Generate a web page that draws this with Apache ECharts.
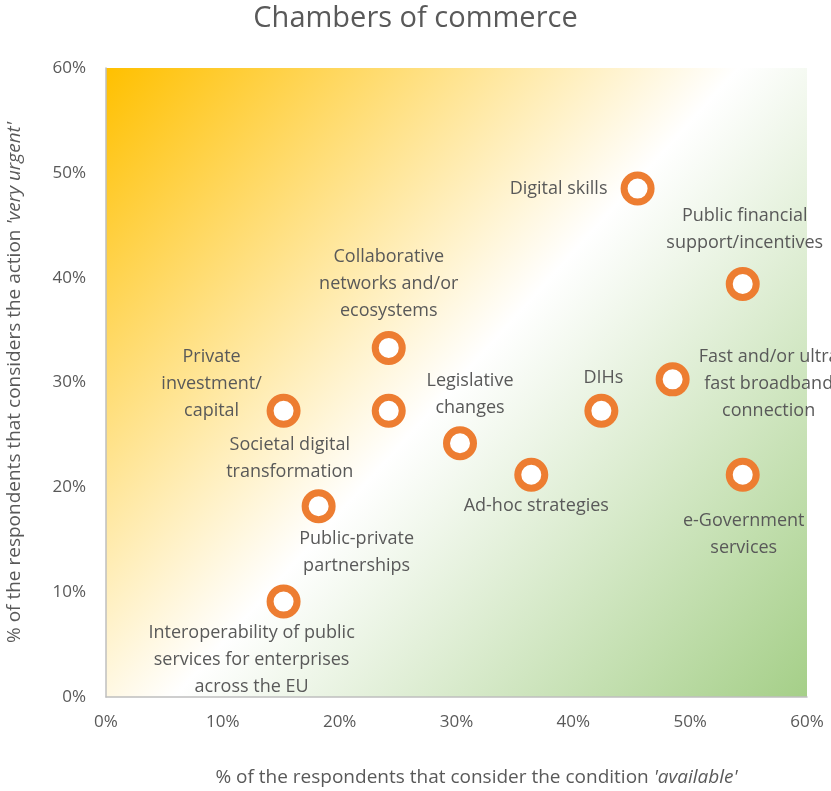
<!DOCTYPE html>
<html>
<head>
<meta charset="utf-8">
<title>Chambers of commerce</title>
<script src="https://cdn.jsdelivr.net/npm/echarts@6/dist/echarts.min.js"></script>
<style>
  html, body { margin: 0; padding: 0; background: #fff; }
  #chart { width: 831px; height: 791px; }
</style>
</head>
<body>
<div id="chart"></div>
<script>
// data (share of respondents, %)
var names = [
  'Digital skills',
  'Public financial\nsupport/incentives',
  'Collaborative\nnetworks and/or\necosystems',
  'Fast and/or ultra\nfast broadband\nconnection',
  'Private\ninvestment/\ncapital',
  'Societal digital\ntransformation',
  'DIHs',
  'Legislative\nchanges',
  'Ad-hoc strategies',
  'e-Government\nservices',
  'Public-private\npartnerships',
  'Interoperability of public\nservices for enterprises\nacross the EU'
]
var available = [45.5, 54.5, 24.2, 48.5, 15.2, 24.2, 42.4, 30.3, 36.4, 54.5, 18.2, 15.2]
var urgent = [48.5, 39.4, 33.3, 30.3, 27.3, 27.3, 27.3, 24.2, 21.2, 21.2, 18.2, 9.1]
var ticks = [0, 10, 20, 30, 40, 50, 60]

// where each label sits relative to its marker (px)
var labelOffsets = [
  [-79, 0], [2, -55], [0, -64], [96, 5], [-72, -27], [-99, 48],
  [2, -33], [10, -49], [5, 31], [1, 60], [38, 46], [-32, 58]
]

var textColor = '#595959'
var font = 'Open Sans'

var points = available.map(function (v, i) {
  return {
    name: names[i],
    value: [v, urgent[i]],
    label: { offset: labelOffsets[i] }
  }
})

var chart = echarts.init(document.getElementById('chart'))

chart.setOption({
  animation: false,
  title: {
    text: 'Chambers of commerce',
    left: 'center',
    top: -1,
    textStyle: { fontFamily: font, fontSize: 29, fontWeight: 'normal', color: textColor }
  },
  grid: {
    left: 106,
    right: 24,
    top: 68,
    bottom: 94,
    outerBoundsMode: 'none',
    show: true,
    borderWidth: 0,
    backgroundColor: new echarts.graphic.LinearGradient(0, 0, 1, 1, [
      { offset: 0, color: '#FFC000' },
      { offset: 0.5, color: '#FFFFFF' },
      { offset: 1, color: '#A5CF88' }
    ])
  },
  xAxis: {
    type: 'value',
    min: ticks[0],
    max: ticks[ticks.length - 1],
    interval: 10,
    name: "% of the respondents that consider the condition {i|'available'}",
    nameLocation: 'middle',
    nameGap: 71,
    nameTextStyle: {
      fontFamily: font, fontSize: 19, color: textColor, padding: [0, 0, 0, 40],
      rich: { i: { fontFamily: font, fontSize: 19, color: textColor, fontStyle: 'italic' } }
    },
    axisLine: { show: true, lineStyle: { color: '#BFBFBF', width: 1.5 } },
    axisTick: { show: false },
    splitLine: { show: false },
    axisLabel: {
      margin: 17,
      fontFamily: font, fontSize: 17, color: textColor,
      formatter: '{value}%'
    }
  },
  yAxis: {
    type: 'value',
    min: ticks[0],
    max: ticks[ticks.length - 1],
    interval: 10,
    name: "% of the respondents that considers the action {i|'very urgent'}",
    nameLocation: 'middle',
    nameGap: 82,
    nameTextStyle: {
      fontFamily: font, fontSize: 19, color: textColor,
      rich: { i: { fontFamily: font, fontSize: 19, color: textColor, fontStyle: 'italic' } }
    },
    axisLine: { show: true, lineStyle: { color: '#BFBFBF', width: 1.5 } },
    axisTick: { show: false },
    splitLine: { show: false },
    axisLabel: {
      margin: 20,
      fontFamily: font, fontSize: 17, color: textColor,
      formatter: '{value}%'
    }
  },
  series: [
    {
      type: 'scatter',
      data: points,
      symbol: 'circle',
      symbolSize: 27,
      itemStyle: { color: '#FFFFFF', borderColor: '#ED7D31', borderWidth: 7, opacity: 1 },
      label: {
        show: true,
        position: 'inside',
        align: 'center',
        verticalAlign: 'middle',
        formatter: '{b}',
        fontFamily: font,
        fontSize: 18,
        lineHeight: 27,
        color: textColor
      },
      emphasis: { disabled: true }
    }
  ]
})
</script>
</body>
</html>
